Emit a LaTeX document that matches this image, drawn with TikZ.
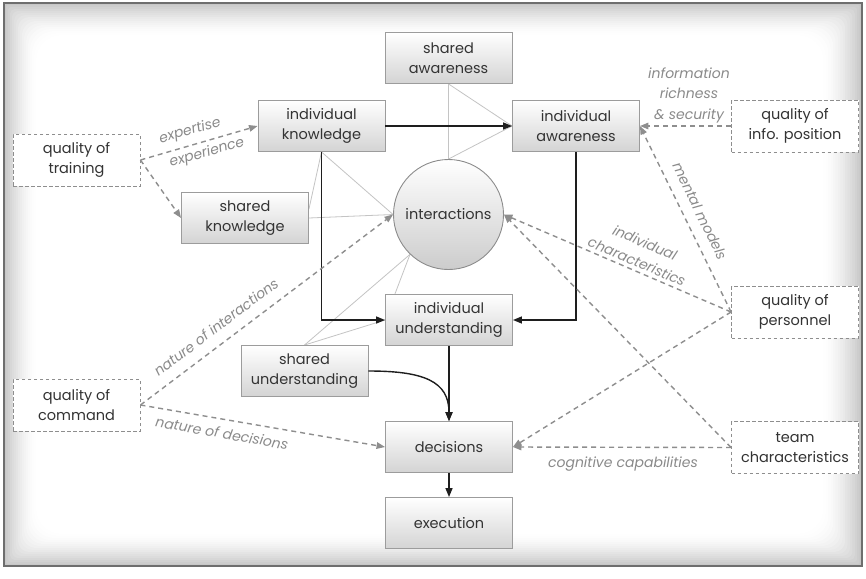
\documentclass[tikz,border=0pt]{standalone}
\usepackage{fontspec}
\setmainfont{Poppins}
\usetikzlibrary{arrows.meta,backgrounds,calc}

\definecolor{frameC}{HTML}{6E6E6E}
\definecolor{boxline}{HTML}{9C9C9C}
\definecolor{dashC}{HTML}{8E8E8E}
\definecolor{labC}{HTML}{8A8A8A}
\definecolor{txtC}{HTML}{333333}
\definecolor{thinC}{HTML}{C4C4C4}
\definecolor{arrC}{HTML}{1E1E1E}

\pgfdeclarelayer{paper}
\pgfsetlayers{paper,background,main}

\begin{document}
\begin{tikzpicture}[x=1pt,y=-1pt,
  boxfont/.style={font=\fontsize{14.5}{20}\selectfont},
  solidbox/.style={boxfont, draw=boxline, line width=0.9pt, top color=white, bottom color=black!17,
    minimum width=127pt, minimum height=51pt, align=center, text=txtC, inner sep=0pt},
  dashbox/.style={boxfont, draw=dashC, dash pattern=on 3.5pt off 2.5pt, line width=0.9pt, fill=white,
    minimum width=127pt, minimum height=52pt, align=center, text=txtC, inner sep=0pt},
  blackarrow/.style={draw=arrC, line width=1.4pt, -{Triangle[length=9pt,width=7pt]}},
  greyarrow/.style={draw=dashC, dash pattern=on 5pt off 4pt, line width=1.4pt, -{Triangle[length=8.5pt,width=6.5pt]}},
  thinline/.style={draw=thinC, line width=0.8pt},
  lab/.style={text=labC, font=\itshape\fontsize{14}{20.5}\selectfont, inner sep=0pt, align=center}
]
\useasboundingbox (0,0) rectangle (866,578);

% frame with soft vignette
\begin{pgfonlayer}{paper}
\fill[white] (0,0) rectangle (866,578);
\fill[black!22] (4,3) rectangle (862,566);
\foreach \k in {1,...,16}{
  \pgfmathsetmacro{\g}{22*(1-\k/16)^1.6}
  \pgfmathsetmacro{\r}{\k*1.6}
  \fill[black!\g, rounded corners=\r pt] (4+\k*2,3+\k*2) rectangle (862-\k*2.4,566-\k*2);
}
\draw[frameC, line width=1.3pt] (4,3) rectangle (862,566);
\end{pgfonlayer}

% nodes
\node[solidbox] (sa) at (448.5,58) {shared\\awareness};
\node[solidbox] (ik) at (321.5,126) {individual\\knowledge};
\node[solidbox] (ia) at (576,126) {individual\\awareness};
\node[dashbox]  (qt) at (76.5,160) {quality of\\training};
\node[solidbox] (sk) at (245,218) {shared\\knowledge};
\node[circle, boxfont, draw=black!45, line width=0.9pt, top color=white, bottom color=black!20,
      minimum size=110pt, inner sep=0pt, text=txtC] (ic) at (448.5,214.5) {interactions};
\node[dashbox]  (qi) at (795,126) {quality of\\info. position};
\node[solidbox] (iu) at (449,320) {individual\\understanding};
\node[solidbox] (su) at (304.5,371) {shared\\understanding};
\node[dashbox]  (qc) at (76.5,405) {quality of\\command};
\node[dashbox]  (qp) at (795,312) {quality of\\personnel};
\node[solidbox] (de) at (449,447) {decisions};
\node[dashbox]  (tc) at (795,447.5) {team\\characteristics};
\node[solidbox] (ex) at (449,523) {execution};

\coordinate (skr) at ([yshift=9pt]sk.east);

% thin grey relation lines (behind boxes)
\begin{pgfonlayer}{background}
\draw[thinline] (sa.south) -- (ic.north);
\draw[thinline] (sa.south) -- (ia.west);
\draw[thinline] (ic.north) -- (ia.west);
\draw[thinline] (ik.south) -- (ic.west);
\draw[thinline] (ik.south) -- (skr);
\draw[thinline] (sk.east) -- (ic.west);
\draw[thinline] (ic.226) -- (iu.west);
\draw[thinline] (ic.226) -- (su.north);
\draw[thinline] (su.north) -- (iu.west);
\end{pgfonlayer}

% black flow arrows
\draw[blackarrow] (ik.east) -- (ia.west);
\draw[blackarrow] (ik.south) |- (iu.west);
\draw[blackarrow] (ia.south) |- (iu.east);
\draw[blackarrow] (iu.south) -- (de.north);
\draw[blackarrow] (su.east) .. controls ($(su.east)+(55,0)$) and ($(de.north)+(0,-40)$) .. (de.north);
\draw[blackarrow] (de.south) -- (ex.north);

% dashed influence arrows
\draw[greyarrow] (qt.east) -- (ik.west);
\draw[greyarrow] (qt.east) -- (sk.west);
\draw[greyarrow] (qi.west) -- (ia.east);
\draw[greyarrow] (qp.west) -- (ia.east);
\draw[greyarrow] (qp.west) -- (ic.east);
\draw[greyarrow] (qp.west) -- (de.east);
\draw[greyarrow] (tc.west) -- (ic.east);
\draw[greyarrow] (tc.west) -- (de.east);
\draw[greyarrow] (qc.east) -- (ic.west);
\draw[greyarrow] (qc.east) -- (de.west);

% labels
\node[lab, rotate=16] (l1) at (190,131) {expertise};
\node[lab, rotate=16] (l2) at (207,153) {experience};
\node[lab] (l3) at (689,95) {information\\richness\\\& security};
\node[lab, rotate=-64] (l4) at (700,211) {mental models};
\node[lab, rotate=-23] (l5) at (641,252) {individual\\characteristics};
\node[lab, rotate=37] (l6) at (216,327) {nature of interactions};
\node[lab, rotate=-10] (l7) at (222,433) {nature of decisions};
\node[lab] (l8) at (623,464) {cognitive capabilities};
\end{tikzpicture}
\end{document}
